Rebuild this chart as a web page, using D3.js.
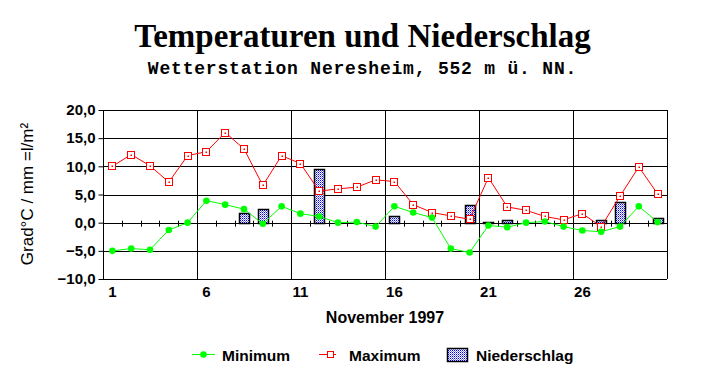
<!DOCTYPE html>
<html>
<head>
<meta charset="utf-8">
<script src="https://cdn.jsdelivr.net/npm/d3@7"></script>
<style>
  body { margin: 0; background: #fff; }
  svg { display: block; }
</style>
</head>
<body>
<svg id="chart"></svg>
<script>
// Days of November 1997
const days = d3.range(1, 31);
// Daily minimum temperature (°C)
const tMin = [-5.0, -4.6, -4.8, -1.3, 0.0, 3.9, 3.2, 2.4, -0.2, 2.9,
              1.6, 1.1, 0.0, 0.1, -0.7, 2.9, 1.8, 0.9, -4.6, -5.3,
              -0.5, -0.8, 0.0, 0.2, -0.7, -1.4, -1.6, -0.7, 2.9, 0.1];
// Daily maximum temperature (°C)
const tMax = [10.0, 12.1, 10.1, 7.2, 11.9, 12.6, 16.0, 13.1, 6.6, 11.9,
              10.5, 5.6, 6.0, 6.3, 7.6, 7.3, 3.2, 1.8, 1.2, 0.6,
              8.0, 2.8, 2.2, 1.1, 0.5, 1.6, -0.7, 4.7, 9.9, 5.1];
// Precipitation (mm = l/m²)
const rain = [0, 0, 0, 0, 0, 0, 0, 1.8, 2.4, 0,
              0, 9.6, 0, 0, 0, 1.1, 0, 0, 0, 3.2,
              0.2, 0.4, 0, 0, 0, 0, 0.4, 3.6, 0, 0.8];
const yTicks = [-10, -5, 0, 5, 10, 15, 20];
const xLabels = [1, 6, 11, 16, 21, 26];

const width = 725, height = 384;
const svg = d3.select("#chart").attr("width", width).attr("height", height);

const x = d3.scaleBand().domain(days).range([103, 667]).padding(0);
const y = d3.scaleLinear().domain([-10, 20]).range([279, 110]);
const cx = d => x(d) + x.bandwidth() / 2;

// dotted fill for the precipitation bars
const defs = svg.append("defs");
const pat = defs.append("pattern")
  .attr("id", "dots")
  .attr("patternUnits", "userSpaceOnUse")
  .attr("width", 2).attr("height", 2);
pat.append("rect").attr("width", 2).attr("height", 2).attr("fill", "#fff")
  .attr("shape-rendering", "crispEdges");
pat.append("rect").attr("x", 0).attr("y", 0).attr("width", 1).attr("height", 1)
  .attr("fill", "#0000ff").attr("shape-rendering", "crispEdges");
pat.append("rect").attr("x", 1).attr("y", 1).attr("width", 1).attr("height", 1)
  .attr("fill", "#8080ff").attr("shape-rendering", "crispEdges");

// Titles
svg.append("text")
  .attr("x", width / 2).attr("y", 47)
  .attr("text-anchor", "middle")
  .attr("font-family", "'Liberation Serif', 'Times New Roman', serif")
  .attr("font-weight", "bold")
  .attr("font-size", 33)
  .text("Temperaturen und Niederschlag");

svg.append("text")
  .attr("x", width / 2).attr("y", 74)
  .attr("text-anchor", "middle")
  .attr("font-family", "'Liberation Mono', 'Courier New', monospace")
  .attr("font-weight", "bold")
  .attr("font-size", 18)
  .attr("letter-spacing", 0.8)
  .text("Wetterstation Neresheim, 552 m ü. NN.");

const plot = svg.append("g");
const x0 = x.range()[0], x1 = x.range()[1];

// horizontal grid lines
plot.append("g")
  .selectAll("line")
  .data(yTicks)
  .join("line")
  .attr("x1", x0).attr("x2", x1)
  .attr("y1", d => Math.round(y(d)) + 0.5)
  .attr("y2", d => Math.round(y(d)) + 0.5)
  .attr("stroke", "#000");

// vertical grid lines between groups of five days
plot.append("g")
  .selectAll("line")
  .data(xLabels.slice(1))
  .join("line")
  .attr("x1", d => Math.round(x(d)) + 0.5)
  .attr("x2", d => Math.round(x(d)) + 0.5)
  .attr("y1", y(20)).attr("y2", y(-10))
  .attr("stroke", "#000");

// frame left / right
plot.append("line")
  .attr("x1", x0 + 0.5).attr("x2", x0 + 0.5)
  .attr("y1", y(20)).attr("y2", y(-10)).attr("stroke", "#000");
plot.append("line")
  .attr("x1", x1 + 0.5).attr("x2", x1 + 0.5)
  .attr("y1", y(20)).attr("y2", y(-10)).attr("stroke", "#000");

// y axis
const yAxis = svg.append("g")
  .attr("transform", `translate(${x0 + 0.5},0)`)
  .call(d3.axisLeft(y).tickValues(yTicks).tickSize(5).tickPadding(3)
    .tickFormat(d => d3.format(".1f")(d).replace(".", ",")));
yAxis.select(".domain").remove();
yAxis.selectAll("line").attr("stroke", "#000");
yAxis.selectAll("text")
  .attr("font-family", "'Liberation Sans', Arial, sans-serif")
  .attr("font-weight", "bold")
  .attr("font-size", 15)
  .attr("fill", "#000");

// tick marks on zero line at day boundaries
plot.append("g")
  .selectAll("line")
  .data(days.slice(1))
  .join("line")
  .attr("x1", d => Math.round(x(d)) + 0.5)
  .attr("x2", d => Math.round(x(d)) + 0.5)
  .attr("y1", y(0) - 2).attr("y2", y(0) + 4)
  .attr("stroke", "#000");

// x labels
svg.append("g")
  .selectAll("text")
  .data(xLabels)
  .join("text")
  .attr("x", d => cx(d))
  .attr("y", 297)
  .attr("text-anchor", "middle")
  .attr("font-family", "'Liberation Sans', Arial, sans-serif")
  .attr("font-weight", "bold")
  .attr("font-size", 15)
  .text(d => d);

// axis titles
svg.append("text")
  .attr("x", (x0 + x1) / 2).attr("y", 323)
  .attr("text-anchor", "middle")
  .attr("font-family", "'Liberation Sans', Arial, sans-serif")
  .attr("font-weight", "bold")
  .attr("font-size", 16)
  .text("November 1997");

svg.append("text")
  .attr("transform", "translate(33,194) rotate(-90)")
  .attr("text-anchor", "middle")
  .attr("font-family", "'Liberation Sans', Arial, sans-serif")
  .attr("font-size", 17)
  .text("Grad°C / mm =l/m²");

// precipitation bars
const barW = 10;
plot.append("g")
  .selectAll("rect")
  .data(days.filter((d, i) => rain[i] > 0))
  .join("rect")
  .attr("x", d => Math.round(cx(d) - barW / 2) + 0.5)
  .attr("width", barW)
  .attr("y", d => Math.round(y(rain[d - 1])) + 0.5)
  .attr("height", d => Math.max(1, Math.round(y(0)) - Math.round(y(rain[d - 1]))))
  .attr("fill", "url(#dots)")
  .attr("stroke", "#000")
  .attr("stroke-width", 1.5);

// maximum line
const line = d3.line().x(d => cx(d[0])).y(d => y(d[1]));
const maxData = days.map((d, i) => [d, tMax[i]]);
const minData = days.map((d, i) => [d, tMin[i]]);

plot.append("path")
  .datum(maxData)
  .attr("fill", "none")
  .attr("stroke", "#ff0000")
  .attr("stroke-width", 1)
  .attr("d", line);

plot.append("g")
  .selectAll("g")
  .data(maxData)
  .join("g")
  .attr("transform", d => `translate(${Math.round(cx(d[0]))},${Math.round(y(d[1]))})`)
  .call(g => {
    g.append("rect").attr("x", -3.5).attr("y", -3.5).attr("width", 7).attr("height", 7)
      .attr("fill", "#fff").attr("stroke", "#ff0000");
    g.append("rect").attr("x", -0.5).attr("y", -0.5).attr("width", 1.5).attr("height", 1.5)
      .attr("fill", "#ff0000");
  });

// minimum line
plot.append("path")
  .datum(minData)
  .attr("fill", "none")
  .attr("stroke", "#00ff00")
  .attr("stroke-width", 1)
  .attr("d", line);

plot.append("g")
  .selectAll("circle")
  .data(minData)
  .join("circle")
  .attr("cx", d => cx(d[0]))
  .attr("cy", d => y(d[1]))
  .attr("r", 3.3)
  .attr("fill", "#00ff00");

// legend
const legend = svg.append("g")
  .attr("font-family", "'Liberation Sans', Arial, sans-serif")
  .attr("font-weight", "bold")
  .attr("font-size", 15.5);

legend.append("line").attr("x1", 192).attr("x2", 215).attr("y1", 354.5).attr("y2", 354.5)
  .attr("stroke", "#00ff00");
legend.append("circle").attr("cx", 203.5).attr("cy", 354.5).attr("r", 3.3).attr("fill", "#00ff00");
legend.append("text").attr("x", 222).attr("y", 361).text("Minimum");

legend.append("line").attr("x1", 319).attr("x2", 336).attr("y1", 354.5).attr("y2", 354.5)
  .attr("stroke", "#ff0000");
legend.append("rect").attr("x", 327.5).attr("y", 351.5).attr("width", 6).attr("height", 6)
  .attr("fill", "#fff").attr("stroke", "#ff0000");
legend.append("text").attr("x", 349).attr("y", 361).text("Maximum");

legend.append("rect").attr("x", 447.5).attr("y", 348.5).attr("width", 20).attr("height", 13)
  .attr("fill", "url(#dots)").attr("stroke", "#000").attr("stroke-width", 1.5);
legend.append("text").attr("x", 476).attr("y", 361).text("Niederschlag");
</script>
</body>
</html>
